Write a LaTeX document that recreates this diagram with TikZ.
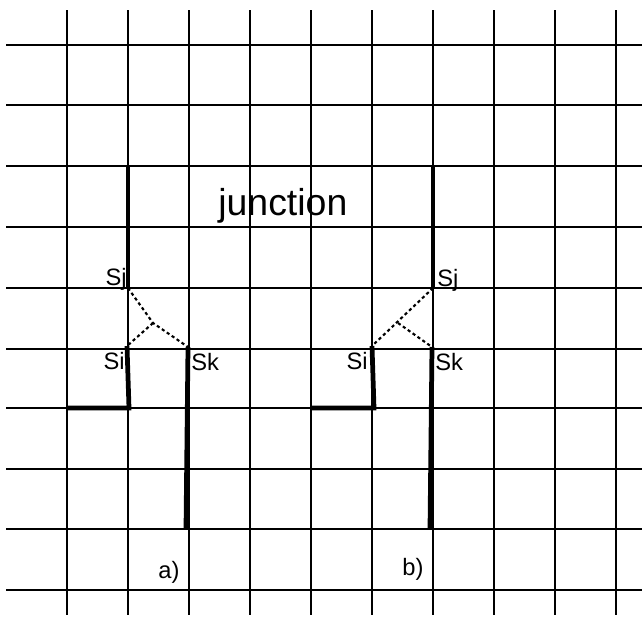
\documentclass[tikz,border=0pt]{standalone}
\usepackage{fontspec}
\setmainfont{Liberation Sans}
\usetikzlibrary{positioning}
\begin{document}
\begin{tikzpicture}[
    x=0.02cm, y=-0.02cm,
    gridline/.style={line width=0.9pt},
    wall/.style={line width=2.7pt},
    link/.style={line width=1.2pt, dash pattern=on 1.8pt off 1.6pt},
    lbl/.style={font=\fontsize{13.5}{16}\selectfont, inner sep=0pt}
]
\useasboundingbox (0,0) rectangle (642,622);
\foreach \gx in {67,128,189,250,311,372,433,494,555,616}
    \draw[gridline] (\gx,10) -- (\gx,615);
\foreach \gy in {45,105,166,227,288,349,408,469,529,590}
    \draw[gridline] (6,\gy) -- (642,\gy);

\coordinate (atop) at (128,166);
\coordinate (aj) at (128,288);
\coordinate (ai) at (127,346);
\coordinate (ak) at (188,347);
\coordinate (am) at (153,323);
\coordinate (acorner) at (129,408);
\coordinate (aend) at (67,408);
\coordinate (abot) at (186,529);

\coordinate (btop) at (433,166);
\coordinate (bj) at (433,288);
\coordinate (bi) at (372,346);
\coordinate (bk) at (432,347);
\coordinate (bm) at (398,323);
\coordinate (bcorner) at (374,408);
\coordinate (bend) at (312,408);
\coordinate (bbot) at (430,529);

\draw[wall] (atop) -- (aj);
\draw[wall] (ai) -- (acorner) -- (aend);
\draw[wall] (ak) -- (abot);
\draw[link] (aj) -- (am) -- (ak);
\draw[link] (am) -- (ai);

\draw[wall] (btop) -- (bj);
\draw[wall] (bi) -- (bcorner) -- (bend);
\draw[wall] (bk) -- (bbot);
\draw[link] (bj) -- (bi);
\draw[link] (bm) -- (bk);

\node[lbl, anchor=base east] (asj) at (127,285) {Sj};
\node[lbl, anchor=base east] (asi) at (125,369) {Si};
\node[lbl, anchor=base west] (ask) at (191,370) {Sk};
\node[lbl, anchor=base west] (bsj) at (437,286) {Sj};
\node[lbl, anchor=base east] (bsi) at (368,369) {Si};
\node[lbl, anchor=base west] (bsk) at (435,370) {Sk};

\node[font=\fontsize{21.3}{25}\selectfont, inner sep=0pt, anchor=base west] (junc) at (218,215) {junction};
\node[lbl, anchor=base west] (capa) at (158,578) {a)};
\node[lbl, anchor=base west] (capb) at (402,575) {b)};
\end{tikzpicture}
\end{document}
